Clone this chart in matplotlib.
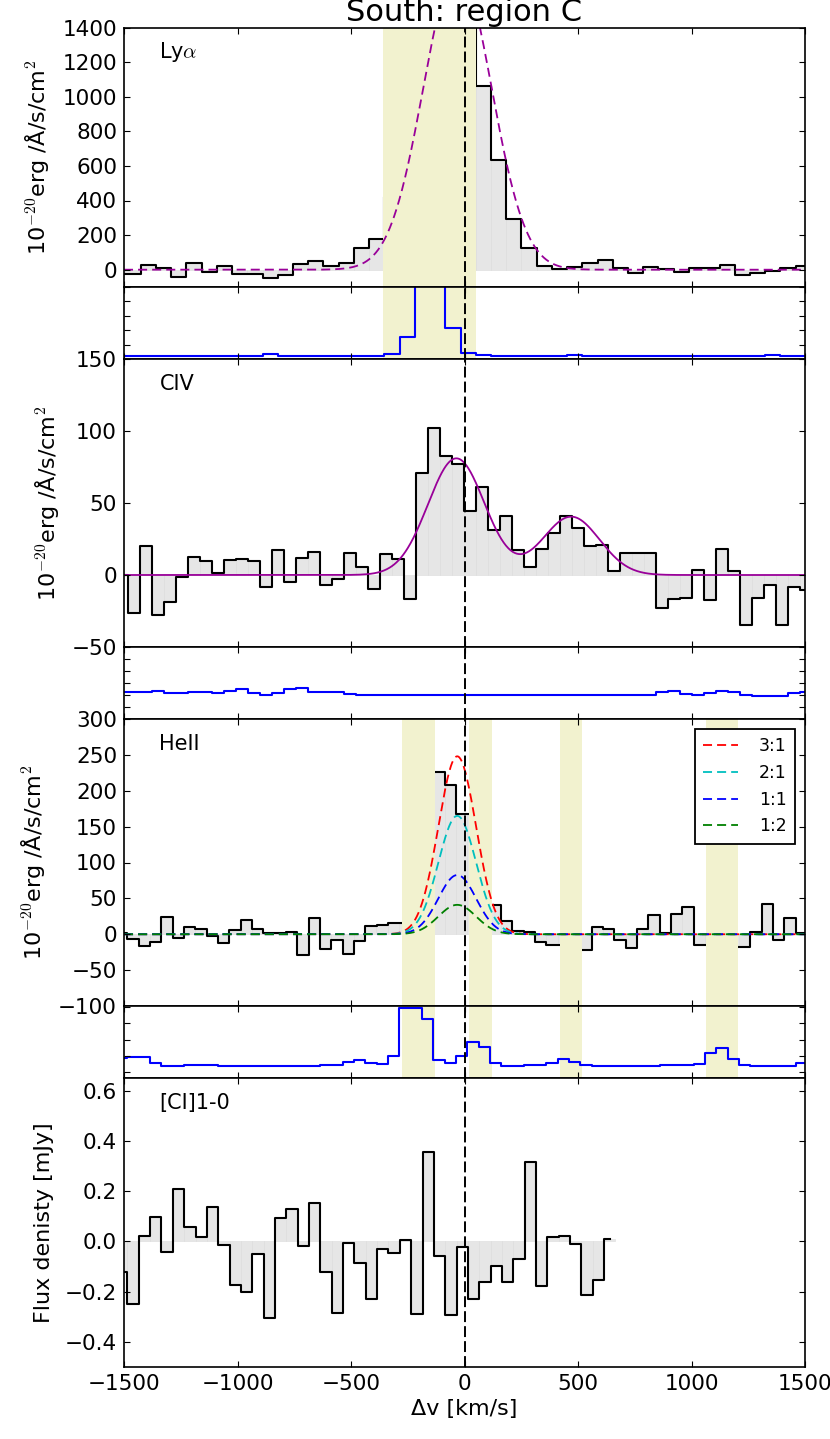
import numpy as np
import matplotlib
matplotlib.use("Agg")
import matplotlib.pyplot as plt

plt.rcParams['font.family'] = ['DejaVu Sans']
plt.rcParams['mathtext.fontset'] = 'cm'
plt.rcParams['xtick.direction'] = 'in'
plt.rcParams['ytick.direction'] = 'in'
plt.rcParams['xtick.top'] = True
plt.rcParams['ytick.right'] = True
plt.rcParams['xtick.major.size'] = 4
plt.rcParams['ytick.major.size'] = 4
plt.rcParams['xtick.major.pad'] = 5
plt.rcParams['ytick.major.pad'] = 5
plt.rcParams['axes.linewidth'] = 1.2
plt.rcParams['xtick.labelsize'] = 15.5
plt.rcParams['ytick.labelsize'] = 15.5

# ---------------- data ----------------
title = "South: region C"
ylabel_flux = "10$^{-20}$erg /Å/s/cm$^2$"
ylabel_ci = "Flux denisty [mJy]"
xlabel = "Δv [km/s]"
xticks = [-1500, -1000, -500, 0, 500, 1000, 1500]

# Ly-alpha
lya_v = [-1527, -1460, -1393, -1326, -1259, -1192, -1125, -1058, -990, -923,
         -856, -789, -722, -655, -588, -521, -454, -387, -319, -252,
         -185, -118, -51, 16, 83, 150, 217, 284, 352, 419,
         486, 553, 620, 687, 754, 821, 888, 955, 1023, 1090,
         1157, 1224, 1291, 1358, 1425, 1492, 1559]
lya_flux = [-23, -23, 27, 10, -40, 36, -15, 23, -23, -22,
            -50, -31, 33, 53, 20, 41, 124, 175, 420, 780,
            1250, 1550, 1600, 1400, 1059, 633, 292, 123, 23, 4,
            15, 36, 58, 12, -19, 15, 4, -15, 8, 10,
            29, -33, -19, -8, 10, 19, 19]
lya_noise = [0.2, 0.2, 0.2, 0.2, 0.2, 0.2, 0.2, 0.2, 0.2, 0.22,
             0.32, 0.21, 0.21, 0.21, 0.21, 0.21, 0.21, 0.21, 0.33, 1.5,
             8.0, 8.0, 2.13, 0.4, 0.28, 0.22, 0.22, 0.22, 0.22, 0.22,
             0.3, 0.22, 0.22, 0.22, 0.22, 0.22, 0.22, 0.22, 0.22, 0.22,
             0.22, 0.22, 0.22, 0.3, 0.22, 0.22, 0.22]
lya_bin = 67.1
lya_fit_amp, lya_fit_mu, lya_fit_sig = 1740.0, -31.0, 150.0
lya_bands = [(-357, 50)]

# CIV
civ_v = [-1510, -1457, -1404, -1351, -1298, -1245, -1192, -1139, -1086, -1034,
         -981, -928, -875, -822, -769, -716, -663, -610, -557, -505,
         -452, -399, -346, -293, -240, -187, -134, -81, -28, 24,
         77, 130, 183, 236, 289, 342, 395, 448, 501, 553,
         606, 659, 712, 765, 818, 871, 924, 977, 1030, 1082,
         1135, 1188, 1241, 1294, 1347, 1400, 1453, 1506]
civ_flux = [0, -26.4, 20.4, -27.8, -19, -1.4, 12.3, 9.7, 1.4, 10.2,
            10.9, 10, -8.3, 17.1, -5.1, 11.8, 16, -6.9, -3, 15.5,
            5.6, -9.7, 14.6, 11.3, -16.4, 70.8, 102.3, 82.4, 76.9, 44.7,
            60.9, 31.5, 41.2, 17.1, 5.3, 17.8, 28.9, 41, 32.6, 19.9,
            20.6, 3, 15.3, 15, 15, -23.1, -16.4, -16, 3.2, -17.6,
            17.8, 2.8, -35, -16, -7.2, -35, -8.3, -10.6]
civ_noise = [2.22, 2.22, 2.22, 2.31, 2.14, 2.14, 2.25, 2.22, 2.14, 2.33,
             2.47, 2.14, 2.0, 2.14, 2.5, 2.56, 2.28, 2.22, 2.22, 2.06,
             1.97, 1.97, 1.97, 1.97, 1.97, 1.97, 1.97, 1.97, 1.97, 2.0,
             2.0, 2.0, 2.0, 2.0, 2.0, 2.0, 2.0, 2.0, 2.0, 2.0,
             2.0, 2.0, 2.0, 2.0, 2.0, 2.22, 2.31, 2.08, 2.03, 2.19,
             2.33, 2.22, 2.03, 1.94, 1.94, 1.94, 2.14, 2.28]
civ_bin = 52.9
civ_fit_amp = [81.0, 40.5]
civ_fit_mu = [-36.0, 470.0]
civ_fit_sig = 125.0

# HeII
heii_v = [-1510, -1460, -1410, -1361, -1311, -1261, -1211, -1161, -1111, -1061,
          -1011, -961, -911, -862, -812, -762, -712, -662, -612, -562,
          -512, -462, -412, -363, -313, -263, -213, -163, -113, -63,
          -13, 37, 87, 136, 186, 236, 286, 336, 386, 436,
          486, 536, 586, 635, 685, 735, 785, 835, 885, 935,
          985, 1035, 1085, 1134, 1184, 1234, 1284, 1334, 1384, 1434,
          1484, 1534]
heii_flux = [1.4, -6.5, -16.3, -10.2, 24.2, -4.6, 10.2, 7, -2.8, -12.5,
             5.6, 20.4, 7.4, 1.9, 1.4, 3.3, -28.8, 23.2, -20.4, -8.4,
             -27.4, -8.8, 11.6, 13, 15.3, 15.3, 120, 200, 225.8, 208,
             168, 168, 70, 40.9, 19, 4.6, 3.7, -10.2, -14.9, -14.9,
             -15, -21.8, 10.2, 7, -7.9, -18.6, 7.4, 26.5, 1.4, 27.9,
             38.1, -14.9, -14.9, -5, -17.2, -17.2, 3.3, 42.3, -8.4, 23.2,
             2.3, 2.3]
heii_noise = [0.86, 0.96, 0.92, 0.59, 0.41, 0.41, 0.45, 0.45, 0.43, 0.41,
              0.41, 0.41, 0.41, 0.41, 0.41, 0.41, 0.41, 0.41, 0.42, 0.45,
              0.65, 0.75, 0.55, 0.49, 1.02, 3.95, 3.95, 3.27, 0.75, 0.55,
              1.02, 1.88, 1.53, 0.59, 0.41, 0.41, 0.45, 0.45, 0.59, 0.79,
              0.65, 0.45, 0.41, 0.41, 0.41, 0.41, 0.41, 0.41, 0.45, 0.47,
              0.47, 0.53, 1.16, 1.47, 0.81, 0.45, 0.41, 0.41, 0.41, 0.41,
              0.57, 0.57]
heii_bin = 49.9
heii_fit_mu, heii_fit_sig = -32.0, 83.0
heii_fit_labels = ["3:1", "2:1", "1:1", "1:2"]
heii_fit_amp = [248.0, 165.0, 82.5, 41.0]
heii_fit_colors = ["#ff0000", "#00bfbf", "#0000ff", "#008000"]
heii_bands = [(-277, -130), (21, 120), (421, 516), (1064, 1206)]

# [CI] 1-0
ci_v = [-1510, -1460, -1410, -1360, -1310, -1260, -1210, -1160, -1110, -1060,
        -1010, -960, -910, -860, -810, -760, -710, -660, -610, -560,
        -510, -460, -410, -360, -310, -260, -210, -160, -110, -60,
        -10, 40, 90, 140, 190, 240, 290, 340, 390, 440,
        490, 540, 590, 640]
ci_flux = [-0.12, -0.251, 0.023, 0.096, -0.041, 0.209, 0.059, 0.019, 0.135, -0.013,
           -0.173, -0.203, -0.052, -0.305, 0.092, 0.127, -0.02, 0.151, -0.121, -0.284,
           -0.008, -0.088, -0.229, -0.031, -0.048, 0.007, -0.291, 0.356, -0.057, -0.293,
           -0.023, -0.229, -0.16, -0.1, -0.161, -0.071, 0.316, -0.177, 0.019, 0.023,
           -0.009, -0.213, -0.153, 0.009]
ci_bin = 50.0

# ---------------- figure ----------------
W, H = 830, 1439
fig = plt.figure(figsize=(W / 100, H / 100), dpi=100, facecolor='white')
L, R = 124, 805


def add_ax(top, bottom):
    return fig.add_axes([L / W, 1 - bottom / H, (R - L) / W, (bottom - top) / H])


ax_lya = add_ax(27.5, 287)
ax_lyan = add_ax(287, 359)
ax_civ = add_ax(359, 647)
ax_civn = add_ax(647, 719)
ax_heii = add_ax(719, 1006)
ax_heiin = add_ax(1006, 1078)
ax_ci = add_ax(1078, 1367)

band_color = '#f2f2cf'
fit_purple = '#990099'
fit_dash = (0, (5, 2.8))
vmod = np.linspace(-1500, 1500, 1201)


def gauss(x, a, mu, sig):
    return a * np.exp(-0.5 * ((x - mu) / sig) ** 2)


def spectrum(ax, v, f, width):
    ax.bar(v, f, width=width, color='0.9', edgecolor='0.86', linewidth=0.4, zorder=1)
    ax.plot(v, f, drawstyle='steps-mid', color='k', lw=1.5, zorder=2)


def finish(ax, ylim, yticks, labels=True):
    ax.set_xlim(-1500, 1500)
    ax.set_ylim(*ylim)
    ax.set_xticks(xticks)
    ax.set_yticks(yticks)
    if not labels:
        ax.set_yticklabels([])
    ax.set_xticklabels([])
    ax.axvline(0, color='k', lw=1.4, ls=(0, (5.6, 2.1)), zorder=6)
    for s in ax.spines.values():
        s.set_zorder(10)
    ax.xaxis.set_zorder(9)
    ax.yaxis.set_zorder(9)


def label(ax, text, top_px, bottom_px):
    frac = 1 - 30.5 / (bottom_px - top_px)
    ax.text(0.052, frac, text, transform=ax.transAxes, fontsize=15,
            ha='left', va='baseline', zorder=8)


# Ly alpha
spectrum(ax_lya, lya_v, lya_flux, lya_bin)
for b0, b1 in lya_bands:
    ax_lya.axvspan(b0, b1, color=band_color, lw=0, zorder=3)
    ax_lyan.axvspan(b0, b1, color=band_color, lw=0, zorder=0.5)
ax_lya.plot(vmod, gauss(vmod, lya_fit_amp, lya_fit_mu, lya_fit_sig),
            color=fit_purple, lw=1.3, ls=fit_dash, zorder=4)
finish(ax_lya, (-100, 1400), [0, 200, 400, 600, 800, 1000, 1200, 1400])
ax_lya.set_ylabel(ylabel_flux, fontsize=16, labelpad=8)
label(ax_lya, 'Ly$\\alpha$', 27.5, 287)

ax_lyan.plot(lya_v, lya_noise, drawstyle='steps-mid', color='#0000ff', lw=1.5, zorder=2)
finish(ax_lyan, (0, 5), [0, 1, 2, 3, 4, 5], labels=False)

# CIV
spectrum(ax_civ, civ_v, civ_flux, civ_bin)
civ_model = sum(gauss(vmod, a, m, civ_fit_sig) for a, m in zip(civ_fit_amp, civ_fit_mu))
ax_civ.plot(vmod, civ_model, color=fit_purple, lw=1.3, zorder=4)
finish(ax_civ, (-50, 150), [-50, 0, 50, 100, 150])
ax_civ.set_ylabel(ylabel_flux, fontsize=16, labelpad=8)
label(ax_civ, 'CIV', 359, 647)

ax_civn.plot(civ_v, civ_noise, drawstyle='steps-mid', color='#0000ff', lw=1.5, zorder=2)
finish(ax_civn, (0, 6), [0, 1, 2, 3, 4, 5, 6], labels=False)

# HeII
spectrum(ax_heii, heii_v, heii_flux, heii_bin)
for b0, b1 in heii_bands:
    ax_heii.axvspan(b0, b1, color=band_color, lw=0, zorder=3)
    ax_heiin.axvspan(b0, b1, color=band_color, lw=0, zorder=0.5)
for a, c, lab in zip(heii_fit_amp, heii_fit_colors, heii_fit_labels):
    ax_heii.plot(vmod, gauss(vmod, a, heii_fit_mu, heii_fit_sig), color=c,
                 lw=1.3, ls=fit_dash, zorder=4, label=lab)
finish(ax_heii, (-100, 300), [-100, -50, 0, 50, 100, 150, 200, 250, 300])
ax_heii.set_ylabel(ylabel_flux, fontsize=16, labelpad=8)
label(ax_heii, 'HeII', 719, 1006)
leg = ax_heii.legend(loc='upper right', fontsize=12.5, fancybox=False, framealpha=1,
                     edgecolor='k', borderaxespad=0.55, handlelength=2.0,
                     handletextpad=1.2, labelspacing=0.5, borderpad=0.5)
leg.get_frame().set_linewidth(1.3)
leg.set_zorder(12)

ax_heiin.plot(heii_v, heii_noise, drawstyle='steps-mid', color='#0000ff', lw=1.5, zorder=2)
finish(ax_heiin, (-0.35, 4.05), [0, 1, 2, 3, 4], labels=False)

# [CI]
spectrum(ax_ci, ci_v, ci_flux, ci_bin)
finish(ax_ci, (-0.5, 0.65), [-0.4, -0.2, 0.0, 0.2, 0.4, 0.6])
ax_ci.set_xticklabels([str(t) if t >= 0 else '\u2212' + str(-t) for t in xticks])
ax_ci.set_ylabel(ylabel_ci, fontsize=16, labelpad=8)
ax_ci.set_xlabel(xlabel, fontsize=16)
label(ax_ci, '[CI]1-0', 1078, 1367)

fig.text(464.5 / W, 1 - 21 / H, title, fontsize=22, ha='center', va='baseline')

fig.savefig('out.png', dpi=100, facecolor='white')
